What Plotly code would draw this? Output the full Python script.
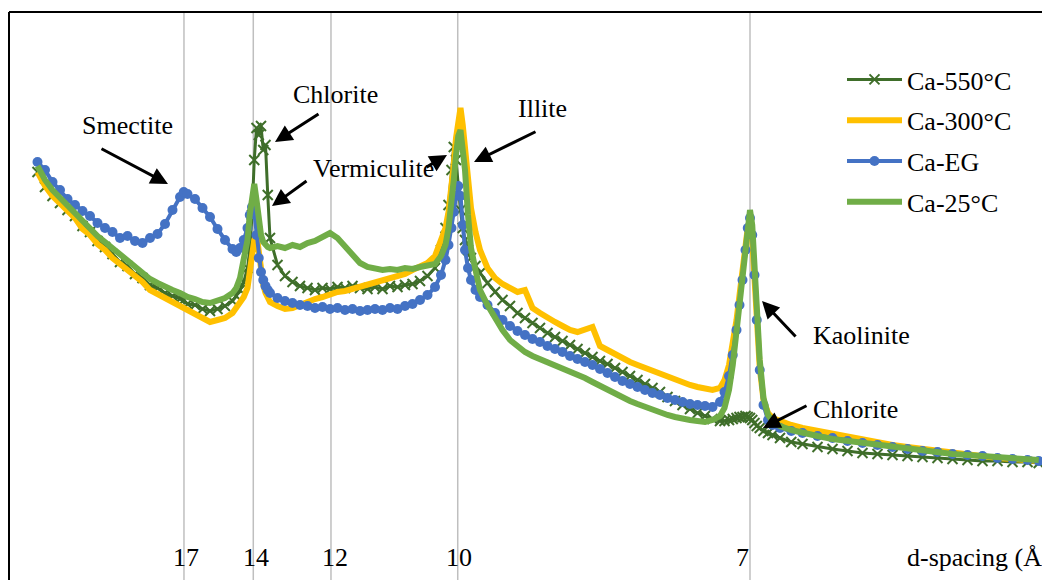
import plotly.graph_objects as go

# ---------------- data ----------------
two_theta = [3.40,3.50,3.60,3.70,3.80,3.90,4.00,4.10,4.20,4.30,4.40,4.50,4.60,4.70,4.80,4.90,5.00,5.10,5.20,5.30,
             5.35,5.40,5.50,5.60,5.70,5.80,5.90,6.00,6.05,6.10,6.15,6.20,6.23,6.26,6.29,6.32,6.35,6.38,6.41,6.44,
             6.47,6.50,6.60,6.70,6.80,6.90,7.00,7.10,7.20,7.30,7.40,7.50,7.60,7.70,7.80,7.90,8.00,8.10,8.20,8.30,
             8.40,8.50,8.60,8.70,8.78,8.84,8.88,8.92,8.95,8.98,9.01,9.04,9.07,9.10,9.14,9.18,9.24,9.30,9.40,9.50,
             9.60,9.70,9.80,9.90,10.0,10.1,10.2,10.3,10.4,10.5,10.6,10.7,10.8,10.9,11.0,11.1,11.2,11.3,11.4,11.5,
             11.6,11.7,11.8,11.9,12.0,12.1,12.2,12.3,12.4,12.5,12.56,12.62,12.67,12.72,12.76,12.80,12.84,12.87,12.90,12.93,
             12.96,12.99,13.03,13.08,13.14,13.20,13.30,13.45,13.60,13.80,14.0,14.2,14.4,14.6,14.8,15.0,15.2,15.4,15.6,15.8,
             16.0,16.2,16.4,16.6,16.75]

ca_550 = [408,393,384,377,370,364,354,348,339,333,326,318,314,306,302,295,292,287,284,281,
          280,276,275,271,269,271,274,279,284,290,298,312,330,365,420,452,445,454,430,435,
          385,342,315,304,298,294,292,290,292,291,293,292,294,292,291,293,291,294,293,295,
          296,299,304,312,330,352,375,410,433,420,390,370,352,340,330,322,314,307,297,288,
          280,274,267,262,257,252,247,243,239,235,231,227,223,219,216,212,208,204,200,196,
          192,188,183,179,175,171,167,164,161,159,159,160,161,162,163,163,164,163,162,160,
          157,154,152,149,147,145,142,138,136,133,131,129,127,126,125,124,123,122,121,120,
          119,119,118,118,117]

ca_300 = [408,394,384,377,368,362,351,345,336,330,322,316,310,303,298,290,286,282,278,274,
          273,270,266,262,258,260,262,267,272,277,283,292,308,325,340,346,330,308,295,287,
          282,278,274,271,272,275,279,281,283,286,288,289,291,293,296,298,299,301,303,306,
          310,314,317,324,338,352,368,390,415,442,462,472,455,432,400,372,348,330,312,302,
          296,292,288,290,272,267,262,258,254,250,248,250,253,234,230,225,221,218,215,212,
          209,206,203,200,197,195,193,191,190,192,200,215,235,260,285,312,335,352,358,340,
          302,258,212,180,167,162,159,155,152,149,146,143,140,138,135,133,131,129,127,125,
          124,122,121,120,119]

ca_eg = [418,410,398,390,381,375,369,364,357,352,348,342,344,339,337,342,346,356,370,383,
         388,386,381,372,363,351,340,331,328,332,340,352,365,373,368,345,322,308,300,294,
         290,287,282,279,277,275,274,272,273,271,272,270,271,269,270,271,270,272,271,274,
         276,280,285,293,305,320,335,352,368,384,394,384,355,330,312,300,290,283,275,267,
         260,254,249,245,241,238,234,231,228,224,221,218,215,211,207,203,199,196,193,190,
         187,185,182,180,178,176,175,174,173,178,188,204,225,250,275,300,330,352,362,345,
         305,260,210,175,160,155,152,149,147,144,142,139,137,135,133,131,129,128,126,125,
         124,122,121,120,119]

ca_25 = [414,400,390,382,374,366,358,352,344,338,332,326,320,314,307,301,297,293,290,287,
         285,283,281,278,277,279,282,287,292,302,318,340,365,388,396,380,358,345,338,334,
         333,332,334,332,335,333,337,339,343,347,342,334,325,317,313,312,310,311,310,312,
         311,313,314,316,324,335,352,375,400,425,444,450,432,410,365,332,310,290,275,262,
         250,240,233,228,224,221,217,214,212,209,206,202,198,194,190,186,183,179,176,173,
         170,167,165,163,161,160,159,158,160,164,172,190,215,250,280,312,342,362,370,355,
         315,270,220,182,165,159,154,150,147,144,141,139,137,135,133,131,129,128,126,125,
         124,123,122,121,120]

series_names = ["Ca-550°C", "Ca-300°C", "Ca-EG", "Ca-25°C"]

d_spacing_labels = ["17", "14", "12", "10", "7"]
d_spacing_pos = [5.353, 6.277, 7.313, 9.003, 12.90]   # 2θ positions of the reference lines

mineral_labels = ["Smectite", "Chlorite", "Vermiculite", "Illite", "Kaolinite", "Chlorite"]

# ---------------- layout helpers (page pixel coords; page body has an 8px offset) ----------------
OFF = 8
FIG_W, FIG_H = 1042, 572
ML, MT = 1, 4
PW, PH = FIG_W - ML, FIG_H - MT
PL, PT = OFF + ML, OFF + MT          # plot-area left/top in page pixels
X0, X1 = 2.9 + PL / 75, 2.9 + (PL + PW) / 75
Y0, Y1 = 580 - (PT + PH), 580 - PT

def xd(px):
    return X0 + (px - PL) / PW * (X1 - X0)

def yd(py):
    return Y1 - (py - PT) / PH * (Y1 - Y0)

def xp(px):
    return (px - PL) / PW

def yp(py):
    return 1 - (py - PT) / PH

FONT = "Liberation Serif, Times New Roman, serif"
FS = 26

fig = go.Figure()

styles = [
    dict(mode="lines+markers", line=dict(color="#3f6e2a", width=3),
         marker=dict(symbol="x-thin", size=10, line=dict(width=2, color="#3f6e2a"), color="#3f6e2a")),
    dict(mode="lines", line=dict(color="#FFC000", width=6)),
    dict(mode="lines+markers", line=dict(color="#4472C4", width=4),
         marker=dict(symbol="circle", size=10, color="#4472C4")),
    dict(mode="lines", line=dict(color="#70AD47", width=6)),
]
for name, ys, st in zip(series_names, [ca_550, ca_300, ca_eg, ca_25], styles):
    fig.add_trace(go.Scatter(x=two_theta, y=ys, name=name, legendgroup=name, **st))

shapes = []
for pos in d_spacing_pos:
    shapes.append(dict(type="line", xref="x", yref="paper", x0=pos, x1=pos, y0=0, y1=1,
                       line=dict(color="#bfbfbf", width=1.5), layer="below"))
shapes.append(dict(type="line", xref="paper", yref="paper", x0=0, x1=1.02, y0=1, y1=1,
                   line=dict(color="black", width=2)))
shapes.append(dict(type="line", xref="paper", yref="paper", x0=0, x1=0, y0=-0.02, y1=1,
                   line=dict(color="black", width=2)))

annotations = []
label_shift = [2, 3, 4, 1, -8]
for lab, pos, sh in zip(d_spacing_labels, d_spacing_pos, label_shift):
    annotations.append(dict(x=pos, xref="x", y=yp(557), yref="paper", text=lab, showarrow=False,
                            xanchor="center", yanchor="middle", xshift=sh,
                            font=dict(family=FONT, size=FS, color="black")))
annotations.append(dict(x=xp(905), xref="paper", y=yp(557), yref="paper", text="d-spacing (Å)",
                        showarrow=False, xanchor="left", yanchor="middle",
                        font=dict(family=FONT, size=FS, color="black")))

label_px = [(80, 125), (291, 95), (311, 168), (516, 108), (811, 335), (811, 409)]
for lab, (px, py) in zip(mineral_labels, label_px):
    annotations.append(dict(x=xp(px), xref="paper", y=yp(py), yref="paper", text=lab, showarrow=False,
                            xanchor="left", yanchor="middle",
                            font=dict(family=FONT, size=FS, color="black")))

arrows = [((100, 148), (168, 184)), ((320, 113), (275, 142)), ((308, 180), (272, 206)),
          ((425, 168), (447, 155)), ((537, 131), (474, 162)), ((797, 338), (762, 301)),
          ((808, 405), (763, 428))]
for (tx, ty), (hx, hy) in arrows:
    annotations.append(dict(x=xd(hx), y=yd(hy), xref="x", yref="y", ax=tx - hx, ay=ty - hy,
                            text="", showarrow=True, arrowhead=2, arrowsize=1.15, arrowwidth=3,
                            arrowcolor="black", standoff=0))

fig.update_layout(
    width=FIG_W, height=FIG_H,
    margin=dict(l=ML, r=0, t=MT, b=0),
    paper_bgcolor="white", plot_bgcolor="white",
    xaxis=dict(range=[X0, X1], showgrid=False, zeroline=False, showticklabels=False,
               showline=False, ticks=""),
    yaxis=dict(range=[Y0, Y1], showgrid=False, zeroline=False, showticklabels=False,
               showline=False, ticks=""),
    showlegend=True,
    legend=dict(x=xp(842), y=yp(56), xanchor="left", yanchor="top", bgcolor="rgba(0,0,0,0)",
                font=dict(family=FONT, size=FS, color="black"), traceorder="grouped",
                tracegroupgap=4, itemwidth=55),
    shapes=shapes,
    annotations=annotations,
)

fig.write_html("out.html")
